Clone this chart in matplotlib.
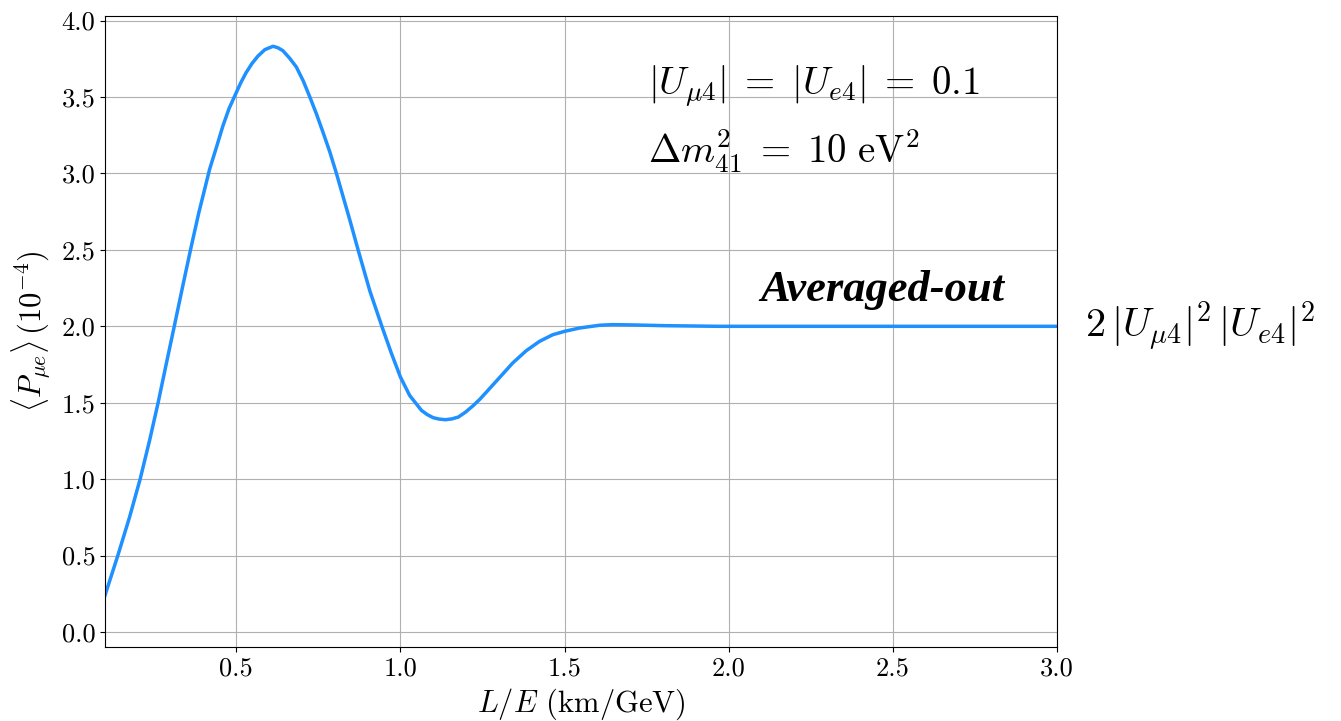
import matplotlib
matplotlib.use("Agg")
import matplotlib.pyplot as plt

plt.rcParams["font.family"] = "serif"
plt.rcParams["font.serif"] = ["cmr10"]
plt.rcParams["mathtext.fontset"] = "cm"
plt.rcParams["axes.formatter.use_mathtext"] = True
plt.rcParams["axes.unicode_minus"] = False

# averaged appearance probability, units of 1e-4
l_over_e = [0.100, 0.139, 0.175, 0.207, 0.236, 0.262, 0.287, 0.312, 0.337, 0.363,
            0.386, 0.419, 0.440, 0.459, 0.478, 0.498, 0.514, 0.530, 0.548, 0.566,
            0.587, 0.612, 0.627, 0.642, 0.662, 0.683, 0.704, 0.724, 0.744, 0.764,
            0.785, 0.805, 0.846, 0.871, 0.907, 0.945, 0.973, 1.000, 1.028, 1.064,
            1.082, 1.100, 1.118, 1.137, 1.156, 1.176, 1.198, 1.221, 1.242, 1.262,
            1.302, 1.342, 1.383, 1.424, 1.464, 1.500, 1.546, 1.607, 1.647, 1.708,
            1.810, 1.970, 2.500, 3.000]
p_mue = [0.240, 0.500, 0.753, 1.000, 1.255, 1.502, 1.758, 2.010, 2.265, 2.525,
         2.745, 3.030, 3.175, 3.310, 3.425, 3.520, 3.595, 3.660, 3.720, 3.768,
         3.810, 3.832, 3.822, 3.803, 3.755, 3.696, 3.605, 3.500, 3.390, 3.270,
         3.140, 3.000, 2.694, 2.500, 2.230, 1.990, 1.820, 1.668, 1.548, 1.450,
         1.422, 1.402, 1.393, 1.389, 1.394, 1.406, 1.438, 1.480, 1.523, 1.570,
         1.665, 1.760, 1.840, 1.902, 1.945, 1.967, 1.989, 2.007, 2.011, 2.009,
         2.004, 2.000, 2.000, 2.000]

x_ticks = [0.5, 1.0, 1.5, 2.0, 2.5, 3.0]
y_ticks = [0.0, 0.5, 1.0, 1.5, 2.0, 2.5, 3.0, 3.5, 4.0]

fig = plt.figure(figsize=(13.41, 7.21), dpi=100)
ax = fig.add_axes([0.0783, 0.1022, 0.7099, 0.8756])

ax.plot(l_over_e, p_mue, color="#1E90FF", lw=2.5)

ax.set_xlim(0.1, 3.0)
ax.set_ylim(-0.1, 4.03)
ax.set_xticks(x_ticks)
ax.set_yticks(y_ticks)
ax.set_xticklabels([f"{v:.1f}" for v in x_ticks])
ax.set_yticklabels([f"{v:.1f}" for v in y_ticks])
ax.tick_params(labelsize=19)
ax.grid(True)

ax.set_xlabel(r"$L/E$ (km/GeV)", fontsize=22, labelpad=4)
ax.set_ylabel(r"$\langle P_{\mu e}\rangle\,(10^{-4})$", fontsize=22, labelpad=6)

ax.text(1.754, 3.51, r"$|U_{\mu 4}|\;=\;|U_{e4}|\;=\;0.1$", fontsize=28, va="baseline")
ax.text(1.754, 3.065, r"$\Delta m^2_{41}\;=\;10\ \mathrm{eV}^2$", fontsize=28, va="baseline")

ax.text(2.095, 2.235, "Averaged-out", fontsize=32, family="Liberation Serif",
        weight="bold", style="italic", va="center")
ax.text(3.086, 2.0, r"$2\,|U_{\mu 4}|^2\,|U_{e4}|^2$", fontsize=29, va="center",
        clip_on=False)

fig.savefig("out.png", dpi=100)
